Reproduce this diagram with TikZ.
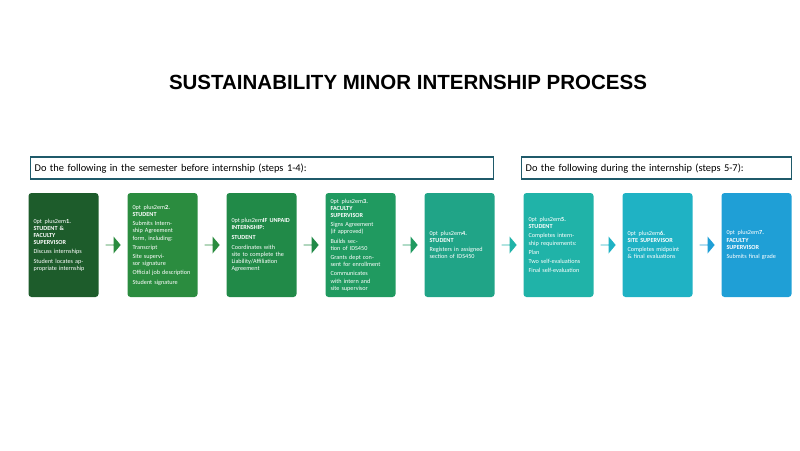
\documentclass[tikz,border=0pt]{standalone}
\usepackage{fontspec}
\setmainfont{Carlito}
\newfontfamily\titlefont{Liberation Sans}
\usetikzlibrary{shapes.arrows,calc}
\definecolor{c1}{HTML}{1D5C2B}
\definecolor{c2}{HTML}{2B8C3F}
\definecolor{c3}{HTML}{218A48}
\definecolor{c4}{HTML}{209A60}
\definecolor{c5}{HTML}{20A487}
\definecolor{c6}{HTML}{20B3A8}
\definecolor{c7}{HTML}{1FB2C4}
\definecolor{c8}{HTML}{1F9FD6}
\definecolor{bord}{HTML}{1F5A6A}
\tikzset{
 stepbox/.style={rounded corners=3pt,minimum width=70pt,minimum height=104pt,text width=60pt,align=center,text=white,font=\fontsize{6.2}{7.2}\selectfont\hyphenpenalty=10000,inner sep=2pt},
 banner/.style={draw=bord,line width=1.3pt,anchor=west,minimum height=22pt,inner xsep=4pt,font=\fontsize{10.4}{11}\selectfont,text depth=0pt},
 blockarrow/.style={single arrow,single arrow head extend=3.5pt,single arrow tip angle=100,minimum height=15pt,minimum width=17pt,inner sep=0pt,draw=none}
}
\begin{document}
\begin{tikzpicture}[x=1pt,y=-1pt]
\useasboundingbox (0,0) rectangle (800,450);
\node (title) at (408,82) {\titlefont\bfseries\fontsize{20.5}{22}\selectfont SUSTAINABILITY MINOR INTERNSHIP PROCESS};
\node[banner,minimum width=463pt,text width=455pt] (ban1) at (30,168) {Do the following in the semester before internship (steps 1-4):};
\node[banner,minimum width=270pt,text width=262pt] (ban2) at (521,168) {Do the following during the internship (steps 5-7):};
\node[stepbox,fill=c1] (s1) at (63.5,245) {\textbf{1. STUDENT \&\\FACULTY\\SUPERVISOR}\\[2pt]Discuss internships\\[2pt]Student locates appropriate internship};
\node[stepbox,fill=c2] (s2) at (162.5,245) {\textbf{2. STUDENT}\\[2pt]Submits Internship Agreement form, including:\\[2pt]Transcript\\[2pt]Site supervisor signature\\[2pt]Official job description\\[2pt]Student signature};
\node[stepbox,fill=c3] (s3) at (261.5,245) {\textbf{IF UNPAID\\INTERNSHIP:}\\[3pt]\textbf{STUDENT}\\[2pt]Coordinates with site to complete the Liability/Affiliation Agreement};
\node[stepbox,fill=c4] (s4) at (360.5,245) {\textbf{3. FACULTY\\SUPERVISOR}\\[2pt]Signs Agreement (if approved)\\[2pt]Builds section of IDS450\\[2pt]Grants dept consent for enrollment\\[2pt]Communicates with intern and site supervisor};
\node[stepbox,fill=c5] (s5) at (459.5,245) {\textbf{4. STUDENT}\\[2pt]Registers in assigned section of IDS450};
\node[stepbox,fill=c6] (s6) at (558.5,245) {\textbf{5. STUDENT}\\[2pt]Completes internship requirements:\\[2pt]Plan\\[2pt]Two self-evaluations\\[2pt]Final self-evaluation};
\node[stepbox,fill=c7] (s7) at (657.5,245) {\textbf{6. SITE SUPERVISOR}\\[2pt]Completes midpoint \& final evaluations};
\node[stepbox,fill=c8] (s8) at (756.5,245) {\textbf{7. FACULTY\\SUPERVISOR}\\[2pt]Submits final grade};
\foreach \a/\b/\c in {s1/s2/c2,s2/s3/c2,s3/s4/c3,s4/s5/c4,s5/s6/c6,s6/s7/c7,s7/s8/c8}
  \node[blockarrow,fill=\c] (ar-\a) at ($(\a.east)!0.5!(\b.west)$) {};
\end{tikzpicture}
\end{document}
